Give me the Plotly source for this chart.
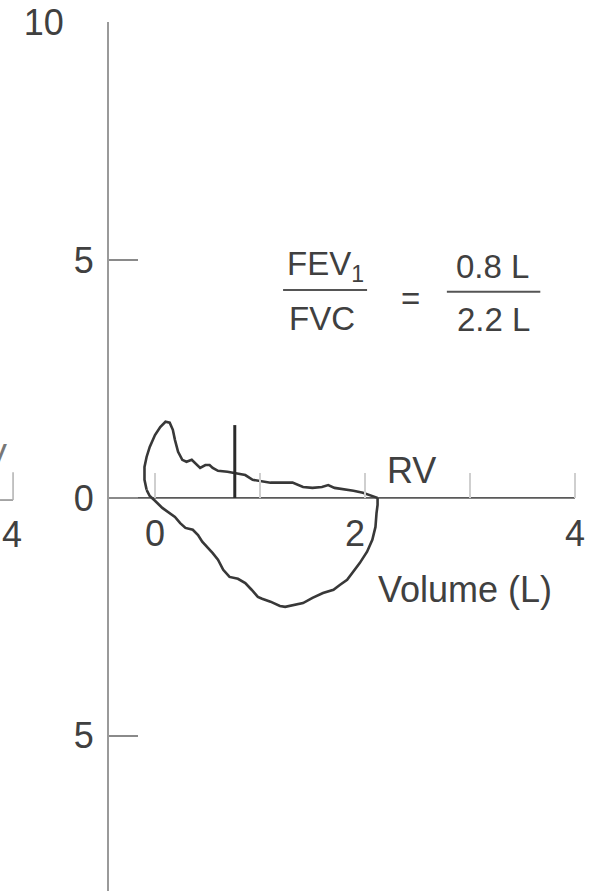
import plotly.graph_objects as go

# ---- data (volume in L, flow in L/s) ----
# expiratory limb: from TLC over the peak to RV
exp_volume = [-0.08, -0.10, -0.10, -0.08, -0.05, 0.00, 0.05, 0.10, 0.14, 0.17,
              0.19, 0.22, 0.26, 0.30, 0.35, 0.38, 0.43, 0.48, 0.52, 0.55,
              0.60, 0.69, 0.76, 0.86, 0.93, 1.00, 1.10, 1.22, 1.31, 1.41,
              1.50, 1.59, 1.65, 1.71, 1.79, 1.89, 1.98, 2.07, 2.12]
exp_flow = [0.17, 0.38, 0.65, 0.86, 1.07, 1.32, 1.49, 1.60, 1.58, 1.43,
            1.22, 0.97, 0.80, 0.76, 0.80, 0.74, 0.63, 0.69, 0.69, 0.63,
            0.57, 0.55, 0.52, 0.48, 0.38, 0.36, 0.32, 0.32, 0.32, 0.23,
            0.21, 0.23, 0.27, 0.21, 0.19, 0.15, 0.11, 0.04, 0.00]
# inspiratory limb: from RV back to TLC
insp_volume = [2.12, 2.12, 2.11, 2.10, 2.07, 2.02, 1.95, 1.89, 1.83, 1.76,
               1.70, 1.60, 1.50, 1.41, 1.31, 1.24, 1.19, 1.10, 1.02, 0.98,
               0.92, 0.86, 0.79, 0.71, 0.65, 0.60, 0.55, 0.50, 0.45, 0.41,
               0.36, 0.29, 0.24, 0.19, 0.12, 0.07, 0.00, -0.05, -0.08]
insp_flow = [0.00, -0.15, -0.32, -0.61, -0.88, -1.13, -1.37, -1.55, -1.72, -1.83,
             -1.93, -2.00, -2.10, -2.21, -2.25, -2.29, -2.27, -2.18, -2.12, -2.08,
             -1.93, -1.79, -1.70, -1.66, -1.51, -1.30, -1.16, -1.05, -0.92, -0.78,
             -0.67, -0.63, -0.53, -0.40, -0.29, -0.21, -0.06, 0.04, 0.17]

fev1_marker_volume = 0.76
fev1_marker_top = 1.53
fev1_value = "0.8 L"
fvc_value = "2.2 L"

x_tick_values = [0, 2, 4]
x_tick_labels = ["0", "2\u00a0\u00a0", "4"]
x_minor_step = 1
y_tick_values = [-5, 0, 5, 10]
y_tick_labels = ["5", "0", "5", "10\u00a0\u00a0\u00a0"]

x_range = [-0.438, 4.248]
y_range = [-8.26, 10]

FONT = "Liberation Sans, Arial, Helvetica, sans-serif"
TXT = "#404040"
CURVE = "#383838"

fig = go.Figure()
fig.add_trace(go.Scatter(x=exp_volume, y=exp_flow, mode="lines",
                         line=dict(color=CURVE, width=2.6), hoverinfo="skip"))
fig.add_trace(go.Scatter(x=insp_volume, y=insp_flow, mode="lines",
                         line=dict(color=CURVE, width=2.6), hoverinfo="skip"))
# FEV1 marker
fig.add_trace(go.Scatter(x=[fev1_marker_volume, fev1_marker_volume], y=[0, fev1_marker_top],
                         mode="lines", line=dict(color="#2a2a2a", width=3), hoverinfo="skip"))

shapes = [
    # horizontal volume axis line from the flow axis to 4 L
    dict(type="line", xref="x", yref="y", x0=x_range[0], x1=4, y0=0, y1=0,
         line=dict(color="#5a5a5a", width=1.6), layer="below"),
    # fraction bars
    dict(type="line", xref="x", yref="y", x0=1.22, x1=2.02, y0=4.37, y1=4.37,
         line=dict(color="#555555", width=2)),
    dict(type="line", xref="x", yref="y", x0=2.78, x1=3.67, y0=4.33, y1=4.33,
         line=dict(color="#555555", width=2)),
    # fragment of neighbouring panel axis at left edge
    dict(type="line", xref="paper", yref="paper", x0=-0.2215, x1=-0.195, y0=0.4499, y1=0.4499,
         line=dict(color="#8a8a8a", width=1.5)),
    dict(type="line", xref="paper", yref="paper", x0=-0.195, x1=-0.195, y0=0.4499, y1=0.482,
         line=dict(color="#b0b0b0", width=1.5)),
]

annotations = [
    dict(text="FEV<sub>1</sub>", x=1.62, y=4.87, xref="x", yref="y", showarrow=False,
         font=dict(size=33, color=TXT, family=FONT), xanchor="center", yanchor="middle"),
    dict(text="FVC", x=1.59, y=3.78, xref="x", yref="y", showarrow=False,
         font=dict(size=33, color=TXT, family=FONT), xanchor="center", yanchor="middle"),
    dict(text="=", x=2.43, y=4.18, xref="x", yref="y", showarrow=False,
         font=dict(size=33, color=TXT, family=FONT), xanchor="center", yanchor="middle"),
    dict(text=fev1_value, x=3.21, y=4.87, xref="x", yref="y", showarrow=False,
         font=dict(size=33, color=TXT, family=FONT), xanchor="center", yanchor="middle"),
    dict(text=fvc_value, x=3.22, y=3.74, xref="x", yref="y", showarrow=False,
         font=dict(size=33, color=TXT, family=FONT), xanchor="center", yanchor="middle"),
    dict(text="RV", x=2.44, y=0.57, xref="x", yref="y", showarrow=False,
         font=dict(size=36, color=TXT, family=FONT), xanchor="center", yanchor="middle"),
    dict(text="Volume (L)", x=2.95, y=-1.93, xref="x", yref="y", showarrow=False,
         font=dict(size=36, color=TXT, family=FONT), xanchor="center", yanchor="middle"),
    # fragments of the neighbouring panel
    dict(text="4", x=-0.197, y=0.4108, xref="paper", yref="paper", showarrow=False,
         font=dict(size=36, color=TXT, family=FONT), xanchor="center", yanchor="middle"),
    dict(text="V", x=-0.2033, y=0.5006, xref="paper", yref="paper", showarrow=False,
         font=dict(size=33, color="#777777", family=FONT), xanchor="right", yanchor="middle"),
]

fig.update_layout(
    width=601, height=891,
    margin=dict(l=109, r=0, t=22, b=0, pad=0),
    paper_bgcolor="white", plot_bgcolor="white",
    showlegend=False,
    shapes=shapes, annotations=annotations,
    font=dict(family=FONT, color=TXT, size=36),
    xaxis=dict(range=x_range, anchor="free", position=(0 - y_range[0]) / (y_range[1] - y_range[0]),
               showline=False, zeroline=False, showgrid=False,
               ticks="inside", ticklen=25, tickwidth=1.5, tickcolor="#cfcfcf",
               tickvals=x_tick_values, ticktext=x_tick_labels,
               minor=dict(dtick=x_minor_step, tick0=0, ticks="inside", ticklen=25,
                          tickwidth=1.5, tickcolor="#cfcfcf", showgrid=False),
               ticklabelstandoff=11, tickfont=dict(size=36, color=TXT, family=FONT)),
    yaxis=dict(range=y_range, showline=True, linecolor="#9a9a9a", linewidth=2.2,
               zeroline=False, showgrid=False,
               ticks="inside", ticklen=29, tickwidth=1.5, tickcolor="#8a8a8a",
               tickvals=y_tick_values, ticktext=y_tick_labels,
               ticklabelstandoff=6, tickfont=dict(size=36, color=TXT, family=FONT)),
)

fig.write_html("out.html", config={"displayModeBar": False})
